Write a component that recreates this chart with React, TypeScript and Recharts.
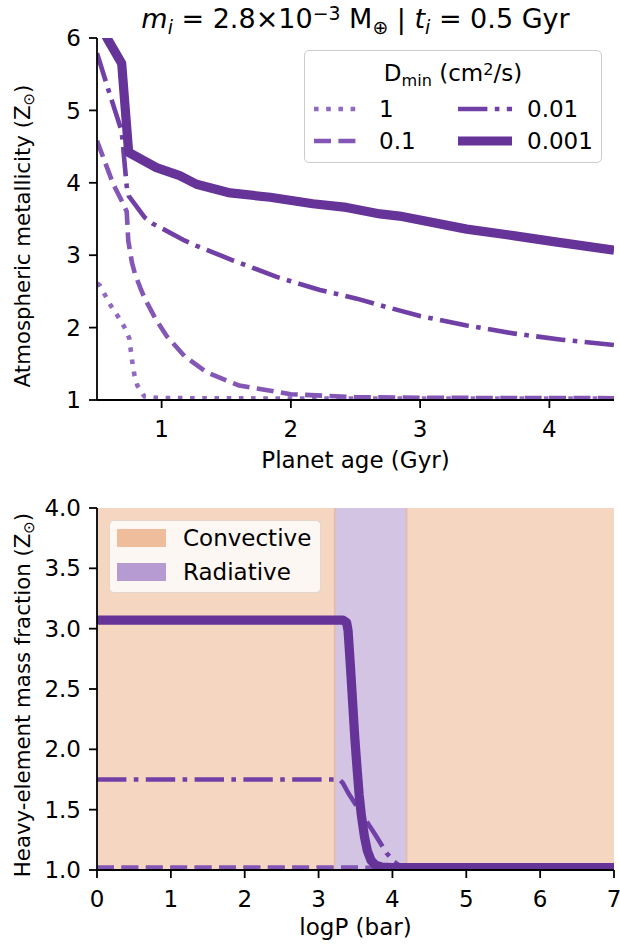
import React from 'react';
import { LineChart, Line, XAxis, YAxis, ReferenceArea, ReferenceLine } from 'recharts';

const FONT = '"DejaVu Sans", sans-serif';

// ---------- Top panel: atmospheric metallicity vs planet age ----------
const ageTicks = [1, 2, 3, 4];
const zTicks = [1, 2, 3, 4, 5, 6];

const ageDot = [0.5, 0.523, 0.562, 0.608, 0.66, 0.711, 0.75, 0.761, 0.773, 0.789, 0.812, 0.866, 0.962, 1.2, 2.0, 3.0, 4.5];
const zDot = [2.61, 2.58, 2.45, 2.3, 2.16, 2.01, 1.85, 1.69, 1.53, 1.35, 1.2, 1.05, 1.03, 1.025, 1.02, 1.02, 1.02];

const ageDash = [0.5, 0.626, 0.7, 0.73, 0.742, 0.77, 0.794, 0.835, 0.87, 0.95, 1.04, 1.18, 1.35, 1.6, 2.0, 2.5, 3.0, 4.5];
const zDash = [4.58, 3.98, 3.72, 3.6, 3.2, 2.9, 2.74, 2.55, 2.4, 2.13, 1.88, 1.6, 1.38, 1.2, 1.08, 1.04, 1.03, 1.025];

const ageDashDot = [0.5, 0.587, 0.691, 0.73, 0.745, 0.87, 0.936, 1.013, 1.18, 1.27, 1.55, 1.89, 2.0, 2.225, 2.51, 2.77, 3.0, 3.36, 3.72, 4.11, 4.5];
const zDashDot = [5.79, 5.29, 4.71, 3.95, 3.82, 3.52, 3.43, 3.36, 3.2, 3.13, 2.93, 2.7, 2.64, 2.52, 2.4, 2.27, 2.16, 2.03, 1.92, 1.83, 1.76];

const ageThick = [0.5, 0.587, 0.691, 0.745, 0.96, 1.14, 1.27, 1.53, 1.84, 2.17, 2.43, 2.69, 2.84, 3.36, 3.72, 4.06, 4.5];
const zThick = [6.25, 5.97, 5.65, 4.42, 4.21, 4.1, 3.98, 3.86, 3.8, 3.71, 3.66, 3.57, 3.54, 3.36, 3.27, 3.18, 3.07];

// ---------- Bottom panel: heavy-element mass fraction vs logP ----------
const logPTicks = [0, 1, 2, 3, 4, 5, 6, 7];
const zmfTicks = [1.0, 1.5, 2.0, 2.5, 3.0, 3.5, 4.0];

const logPDot = [0, 7];
const zmfDot = [1.015, 1.015];

const logPDash = [0, 3.3, 4.0, 7];
const zmfDash = [1.02, 1.02, 1.018, 1.018];

const logPDashDot = [0, 3.28, 3.33, 3.4, 3.58, 3.77, 3.92, 4.02, 4.1, 4.2, 7];
const zmfDashDot = [1.75, 1.75, 1.72, 1.64, 1.47, 1.29, 1.14, 1.07, 1.035, 1.025, 1.02];

const logPThick = [0, 3.33, 3.38, 3.4, 3.43, 3.46, 3.49, 3.52, 3.55, 3.58, 3.62, 3.66, 3.71, 3.77, 3.85, 4.0, 7];
const zmfThick = [3.07, 3.07, 3.05, 2.98, 2.7, 2.4, 2.1, 1.85, 1.62, 1.45, 1.28, 1.16, 1.08, 1.04, 1.025, 1.02, 1.02];

const regionStart = [0, 3.22, 4.19];
const regionEnd = [3.22, 4.19, 7];
const regionKind = ['Convective', 'Radiative', 'Convective'];

// ---------- styles ----------
const seriesLabels = ['1', '0.1', '0.01', '0.001'];
const seriesStyle = [
  { color: '#9169bf', width: 4.6, dash: '4.6 7.6' },
  { color: '#8456b5', width: 4.6, dash: '17 7.4' },
  { color: '#7040a6', width: 4.6, dash: '29.4 7.4 4.6 7.4' },
  { color: '#663399', width: 9.2, dash: undefined as string | undefined },
];
const regionFill: Record<string, string> = { Convective: '#f4d6c1', Radiative: '#d3c4e4' };
const regionSwatch: Record<string, string> = { Convective: '#efbd9b', Radiative: '#b59bd1' };

const pts = (xs: number[], ys: number[]) => xs.map((x, i) => ({ x, y: ys[i] }));

const topSeries = [pts(ageDot, zDot), pts(ageDash, zDash), pts(ageDashDot, zDashDot), pts(ageThick, zThick)];
const botSeries = [pts(logPDot, zmfDot), pts(logPDash, zmfDash), pts(logPDashDot, zmfDashDot), pts(logPThick, zmfThick)];

const axisStroke = { stroke: '#000', strokeWidth: 1.8 };
const tickStyle = { fill: '#000', fontSize: 23, fontFamily: FONT };

const Sub = ({ children }: { children: React.ReactNode }) => (
  <span style={{ fontSize: '70%', position: 'relative', top: '0.3em', lineHeight: 0 }}>{children}</span>
);
const Sup = ({ children }: { children: React.ReactNode }) => (
  <span style={{ fontSize: '70%', position: 'relative', top: '-0.4em', lineHeight: 0 }}>{children}</span>
);

const renderLines = (series: { x: number; y: number }[][]) =>
  series.map((d, i) => (
    <Line
      key={i}
      xAxisId="b"
      yAxisId="l"
      data={d}
      dataKey="y"
      type="linear"
      dot={false}
      activeDot={false}
      stroke={seriesStyle[i].color}
      strokeWidth={seriesStyle[i].width}
      strokeDasharray={seriesStyle[i].dash}
      strokeLinejoin="round"
      isAnimationActive={false}
    />
  ));

const Swatch = ({ i, w }: { i: number; w: number }) => (
  <svg width={w} height={14} style={{ display: 'block' }}>
    <line x1={0} y1={7} x2={w} y2={7} stroke={seriesStyle[i].color} strokeWidth={seriesStyle[i].width} strokeDasharray={seriesStyle[i].dash} />
  </svg>
);

export default function App() {
  return (
    <div style={{ position: 'absolute', left: 0, top: 0, width: 620, height: 945, background: '#fff', fontFamily: FONT, color: '#000', overflow: 'hidden' }}>
      {/* Title */}
      <div style={{ position: 'absolute', left: 97, top: 3, width: 517, textAlign: 'center', fontSize: 27, lineHeight: '32px', whiteSpace: 'nowrap' }}>
        <i>m</i><Sub><i>i</i></Sub> = 2.8×10<Sup>−3</Sup> M<Sub>⊕</Sub> | <i>t</i><Sub><i>i</i></Sub> = 0.5 Gyr
      </div>

      {/* Top chart */}
      <div style={{ position: 'absolute', left: 0, top: 0 }}>
        <LineChart width={620} height={470} margin={{ top: 38, right: 6, bottom: 0, left: 0 }}>
          <XAxis xAxisId="b" dataKey="x" type="number" domain={[0.5, 4.5]} ticks={ageTicks} allowDataOverflow height={70}
            tickSize={8} tickMargin={13} tick={tickStyle} axisLine={axisStroke} tickLine={axisStroke} />
          <XAxis xAxisId="t" orientation="top" dataKey="x" type="number" domain={[0.5, 4.5]} allowDataOverflow height={0}
            tick={false} tickLine={false} axisLine={axisStroke} />
          <YAxis yAxisId="l" type="number" domain={[1, 6]} ticks={zTicks} allowDataOverflow width={97}
            tickSize={8} tickMargin={8} tick={tickStyle} axisLine={axisStroke} tickLine={axisStroke} />
          <YAxis yAxisId="r" orientation="right" type="number" domain={[1, 6]} allowDataOverflow width={0}
            tick={false} tickLine={false} axisLine={axisStroke} />
          {renderLines(topSeries)}
        </LineChart>
      </div>

      {/* Top legend */}
      <div style={{ position: 'absolute', left: 304, top: 50, width: 298, height: 113, boxSizing: 'border-box', border: '1.5px solid #cccccc', borderRadius: 5, background: 'rgba(255,255,255,0.8)', fontSize: 23 }}>
        <div style={{ position: 'absolute', left: 0, width: '100%', top: 8, textAlign: 'center', lineHeight: '28px', whiteSpace: 'nowrap' }}>
          D<Sub>min</Sub> (cm<Sup>2</Sup>/s)
        </div>
        {[0, 1, 2, 3].map((i) => {
          const col = i < 2 ? 0 : 1;
          const row = i % 2;
          const sx = col === 0 ? 9 : 153;
          const sw = col === 0 ? 44 : 54;
          const tx = col === 0 ? 74 : 222;
          const cy = row === 0 ? 58 : 90;
          return (
            <React.Fragment key={i}>
              <div style={{ position: 'absolute', left: sx, top: cy - 7 }}><Swatch i={i} w={sw} /></div>
              <div style={{ position: 'absolute', left: tx, top: cy - 14, lineHeight: '28px' }}>{seriesLabels[i]}</div>
            </React.Fragment>
          );
        })}
      </div>

      {/* Top axis labels */}
      <div style={{ position: 'absolute', left: 97, top: 447, width: 517, textAlign: 'center', fontSize: 23, lineHeight: '27px' }}>Planet age (Gyr)</div>
      <div style={{ position: 'absolute', left: 22, top: 236, fontSize: 21.3, lineHeight: '27px', whiteSpace: 'nowrap', transform: 'translate(-50%, -50%) rotate(-90deg)' }}>
        Atmospheric metallicity (Z<Sub>⊙</Sub>)
      </div>

      {/* Bottom chart */}
      <div style={{ position: 'absolute', left: 0, top: 470 }}>
        <LineChart width={620} height={475} margin={{ top: 38, right: 6, bottom: 0, left: 0 }}>
          <XAxis xAxisId="b" dataKey="x" type="number" domain={[0, 7]} ticks={logPTicks} allowDataOverflow height={75}
            tickSize={8} tickMargin={13} tick={tickStyle} axisLine={axisStroke} tickLine={axisStroke} />
          <XAxis xAxisId="t" orientation="top" dataKey="x" type="number" domain={[0, 7]} allowDataOverflow height={0}
            tick={false} tickLine={false} axisLine={axisStroke} />
          <YAxis yAxisId="l" type="number" domain={[1, 4]} ticks={zmfTicks} allowDataOverflow width={97}
            tickFormatter={(v: number) => v.toFixed(1)}
            tickSize={8} tickMargin={8} tick={tickStyle} axisLine={axisStroke} tickLine={axisStroke} />
          <YAxis yAxisId="r" orientation="right" type="number" domain={[1, 4]} allowDataOverflow width={0}
            tick={false} tickLine={false} axisLine={axisStroke} />
          {regionKind.map((k, i) => (
            <ReferenceArea key={'ra' + i} xAxisId="b" yAxisId="l" x1={regionStart[i]} x2={regionEnd[i]} y1={1} y2={4}
              fill={regionFill[k]} fillOpacity={1} stroke="none" ifOverflow="hidden" />
          ))}
          {regionStart.slice(1).map((x, i) => (
            <ReferenceLine key={'rl' + i} xAxisId="b" yAxisId="l" x={x} stroke="#e2bdb4" strokeWidth={2} />
          ))}
          {renderLines(botSeries)}
        </LineChart>
      </div>

      {/* Bottom legend */}
      <div style={{ position: 'absolute', left: 109, top: 520, width: 212, height: 73, boxSizing: 'border-box', border: '1.5px solid #e3d6cf', borderRadius: 5, background: 'rgba(255,255,255,0.8)', fontSize: 23 }}>
        {['Convective', 'Radiative'].map((k, i) => (
          <React.Fragment key={k}>
            <div style={{ position: 'absolute', left: 7, top: 8 + i * 34, width: 49, height: 18, background: regionSwatch[k] }} />
            <div style={{ position: 'absolute', left: 73, top: 3 + i * 34, lineHeight: '28px' }}>{k}</div>
          </React.Fragment>
        ))}
      </div>

      {/* Bottom axis labels */}
      <div style={{ position: 'absolute', left: 97, top: 914, width: 517, textAlign: 'center', fontSize: 23, lineHeight: '27px' }}>logP (bar)</div>
      <div style={{ position: 'absolute', left: 22, top: 695, fontSize: 21.3, lineHeight: '27px', whiteSpace: 'nowrap', transform: 'translate(-50%, -50%) rotate(-90deg)' }}>
        Heavy-element mass fraction (Z<Sub>⊙</Sub>)
      </div>
    </div>
  );
}
